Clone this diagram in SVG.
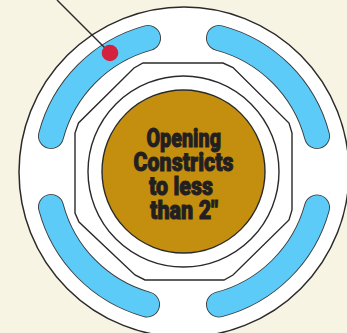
<svg xmlns="http://www.w3.org/2000/svg" width="347" height="333" viewBox="0 0 347 333">
  <defs>
    <style>
      .ln{fill:none;stroke:#2b2a2b;stroke-width:1.4}
      .so{fill:none;stroke:#3a3a3c;stroke-width:26;stroke-linecap:round}
      .si{fill:none;stroke:#5ccbf7;stroke-width:24.200;stroke-linecap:round}
      text{font-family:Roboto,"Liberation Sans",Arial,sans-serif;font-weight:900;font-size:26px;fill:#231f20;stroke:#231f20;stroke-width:.95}
    </style>
    <path id="s1" d="M51 136A138 138 0 0 1 148 38"/>
    <path id="s2" d="M219 38A138 138 0 0 1 317 136"/>
    <path id="s3" d="M51 207A138 138 0 0 0 147 304.500"/>
    <path id="s4" d="M317 207.500A138 138 0 0 1 219 304.500"/>
  </defs>
  <rect id="background" width="347" height="333" fill="#f7f4e3"/>
  <g id="outer-ring"><circle cx="184" cy="172" r="165" fill="#fff" stroke="#2b2a2b" stroke-width="1.5"/></g>
  <g id="slot-top-left"><use href="#s1" class="so"/><use href="#s1" class="si"/></g>
  <g id="slot-top-right"><use href="#s2" class="so"/><use href="#s2" class="si"/></g>
  <g id="slot-bottom-left"><use href="#s3" class="so"/><use href="#s3" class="si"/></g>
  <g id="slot-bottom-right"><use href="#s4" class="so"/><use href="#s4" class="si"/></g>
  <g id="octagon"><path class="ln" d="M143 63H223L233 67.500L289 123L292 133V210L289 220L233 275L224 280H145L135 275L79 222L75 213V133L78.500 123L134 68Z"/></g>
  <g id="inner-ring"><circle class="ln" cx="183.500" cy="171.500" r="95.500"/></g>
  <g id="opening">
    <circle cx="183.500" cy="171.500" r="81.500" fill="#c48f0e" stroke="#2b2a2b" stroke-width="1.4"/>
    <text x="146.500" y="147" textLength="74.500" lengthAdjust="spacingAndGlyphs">Opening</text>
    <text x="133.500" y="171" textLength="100" lengthAdjust="spacingAndGlyphs">Constricts</text>
    <text x="149" y="194.500" textLength="64" lengthAdjust="spacingAndGlyphs">to less</text>
    <text x="150" y="218.500" textLength="68" lengthAdjust="spacingAndGlyphs">than 2"</text>
  </g>
  <g id="connectors"><line class="ln" x1="57" y1="0" x2="105" y2="48" stroke-width="1"/></g>
  <g id="marker"><circle cx="110" cy="53" r="8.300" fill="#d4213d"/></g>
</svg>
